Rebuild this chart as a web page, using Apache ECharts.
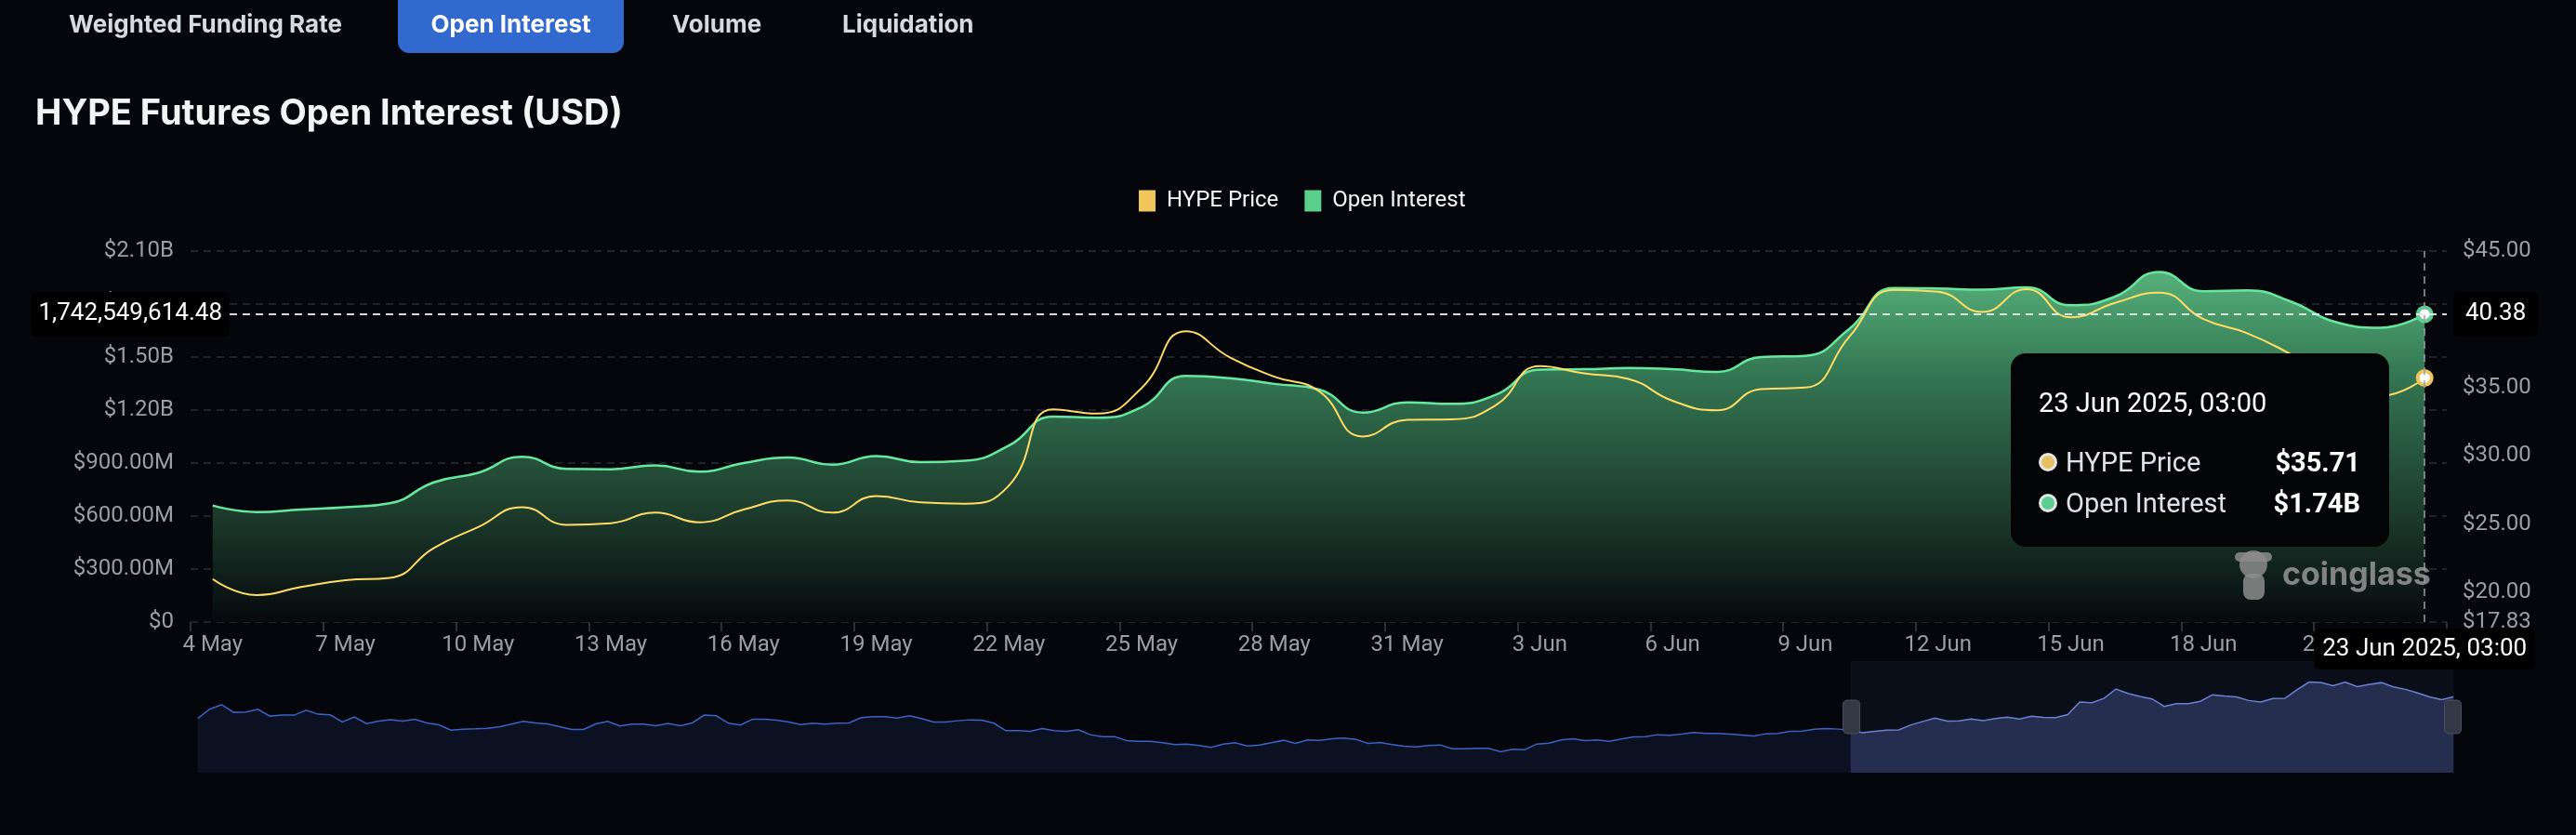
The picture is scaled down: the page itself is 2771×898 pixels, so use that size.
<!DOCTYPE html>
<html>
<head>
<meta charset="utf-8">
<script src="https://cdn.jsdelivr.net/npm/echarts@6/dist/echarts.min.js"></script>
<style>
html,body{margin:0;padding:0;background:#04060b;}
#c{width:2771px;height:898px;}
</style>
</head>
<body>
<div id="c"></div>
<script>
// ---------- DATA ----------
const MONTHS = ['Jan','Feb','Mar','Apr','May','Jun','Jul','Aug','Sep','Oct','Nov','Dec'];
// daily categories 18 Dec 2024 .. 23 Jun 2025 (03:00)
const dates = [];
for (let k = 0; k < 188; k++) {
  const d = new Date(Date.UTC(2024, 11, 18 + k));
  dates.push(d.getUTCDate() + ' ' + MONTHS[d.getUTCMonth()] + ' ' + d.getUTCFullYear() + ', 03:00');
}
// HYPE price before the visible window (read from the navigator)
const pricePre = [
  26.06,30.18,32.24,28.80,28.94,30.18,27.16,27.57,27.57,29.77,27.98,27.71,24.55,26.75,23.87,
  24.96,25.51,24.96,25.79,24.14,23.32,20.98,21.39,21.53,21.81,22.36,23.59,24.83,24.14,23.73,
  22.49,21.26,21.26,23.73,24.83,22.77,23.59,23.59,22.90,23.87,22.90,24.14,27.57,27.30,24.00,
  23.20,25.79,25.79,25.38,24.55,23.45,24.00,23.59,24.00,24.14,26.47,26.88,26.88,26.33,27.30,
  26.06,24.55,24.55,25.10,25.51,25.38,24.00,20.71,20.71,20.44,21.67,20.71,20.44,21.12,18.93,
  18.10,18.10,16.32,16.05,16.05,15.36,14.54,14.81,14.12,13.30,14.81,15.36,13.99,14.40,15.36,
  16.46,15.08,16.59,16.46,17.14,17.42,16.87,15.08,15.50,14.54,13.85,13.57,14.12,14.40,12.75,
  12.75,12.89,12.89,11.38,12.48,12.34,14.81,15.22,16.59,17.14,16.32,16.59,16.05,17.01,17.97,
  18.10,18.93,18.65,19.20,19.89,19.48,19.48,19.20,18.79,18.38,19.34,19.48,20.44,20.57,21.39,
  21.67,21.40
];
// HYPE price, 4 May .. 23 Jun
const priceWindow = [
  20.98,19.81,20.40,20.89,21.06,23.26,24.78,26.24,24.95,25.07,
  25.84,25.14,26.07,26.73,25.84,27.06,26.59,26.49,27.83,33.41,
  33.10,34.98,39.13,37.20,35.80,34.75,31.42,32.64,32.68,33.70,
  36.58,36.04,35.64,34.04,33.34,34.89,35.00,38.74,42.16,42.02,
  40.54,42.21,40.15,41.20,41.95,40.02,38.97,37.40,35.60,34.40,
  35.71
];
// Open interest (USD), 4 May .. 23 Jun
const oiWindow = [
  6.60e8,6.23e8,6.37e8,6.50e8,6.72e8,7.91e8,8.45e8,9.36e8,8.67e8,8.65e8,
  8.87e8,8.51e8,9.00e8,9.31e8,8.91e8,9.40e8,9.05e8,9.13e8,9.99e8,1.163e9,
  1.157e9,1.217e9,1.393e9,1.380e9,1.348e9,1.317e9,1.186e9,1.244e9,1.235e9,1.286e9,
  1.429e9,1.431e9,1.438e9,1.431e9,1.416e9,1.500e9,1.507e9,1.661e9,1.891e9,1.888e9,
  1.882e9,1.895e9,1.793e9,1.842e9,1.982e9,1.873e9,1.877e9,1.812e9,1.697e9,1.666e9,
  1742549614.48
];
const rightTicks = [17.83, 20, 25, 30, 35, 40, 45];
const tabs = ['Weighted Funding Rate', 'Open Interest', 'Volume', 'Liquidation'];

const priceData = pricePre.concat(priceWindow);
const oiData = new Array(pricePre.length).fill(null).concat(oiWindow);
const WIN_START = pricePre.length;
const LAST = priceData.length - 1;

// ---------- CHART ----------
const chart = echarts.init(document.getElementById('c'), null, {renderer: 'canvas'});
const AX = '#9a9ea7';
const FONT = 'Roboto, "Noto Sans", sans-serif';
const TFONT = 'Inter, Roboto, sans-serif';

function fmtLeft(v) {
  if (v === 0) return '$0';
  if (v >= 1e9) return '$' + (v / 1e9).toFixed(2) + 'B';
  return '$' + (v / 1e6).toFixed(2) + 'M';
}
function commas(v) {
  return Number(v).toLocaleString('en-US', {minimumFractionDigits: 2, maximumFractionDigits: 2});
}

const tabX = [74, 549.5, 723, 906];
const graphics = [
  {type: 'rect', shape: {x: 428, y: -16, width: 243, height: 73, r: 12}, style: {fill: '#3169cf'}, z: 10}
];
tabs.forEach((t, i) => {
  graphics.push({
    type: 'text', x: tabX[i], y: 27, z: 11,
    style: {text: t, fill: i === 1 ? '#ffffff' : '#d6dae1', font: 'bold 26px ' + TFONT,
            align: i === 1 ? 'center' : 'left', verticalAlign: 'middle'}
  });
});
// watermark
const WM = 'rgba(140,140,140,0.85)';
graphics.push({type: 'circle', z: 100, shape: {cx: 2424, cy: 607, r: 15}, style: {fill: WM}});
graphics.push({type: 'rect', z: 100, shape: {x: 2404, y: 594, width: 40, height: 10, r: 5}, style: {fill: WM}});
graphics.push({type: 'rect', z: 100, shape: {x: 2413, y: 617, width: 23, height: 28, r: 8}, style: {fill: WM}});
graphics.push({type: 'text', z: 100, x: 2455, y: 619,
  style: {text: 'coinglass', fill: 'rgba(150,150,150,0.85)', font: 'bold 34px ' + TFONT, align: 'left', verticalAlign: 'middle'}});

const option = {
  backgroundColor: '#04060b',
  animation: false,
  textStyle: {fontFamily: FONT},
  title: {
    text: 'HYPE Futures Open Interest (USD)', left: 38, top: 104, padding: 0,
    textStyle: {color: '#f3f4f6', fontSize: 38, fontWeight: 'bold', fontFamily: TFONT}
  },
  legend: {
    data: ['HYPE Price', 'Open Interest'], left: 1225, top: 204, padding: 0,
    icon: 'rect', itemWidth: 18, itemHeight: 23, itemGap: 28,
    textStyle: {color: '#f5f6f8', fontSize: 24, fontFamily: FONT, padding: [0, 0, 0, 7]}
  },
  graphic: graphics,
  grid: {left: 205, right: 139, top: 270, bottom: 229},
  tooltip: {
    trigger: 'axis',
    triggerOn: 'none',
    alwaysShowContent: true,
    transitionDuration: 0,
    position: [2163, 380],
    backgroundColor: '#030406',
    borderWidth: 0,
    padding: 0,
    extraCssText: 'border-radius:16px;box-shadow:none;',
    axisPointer: {
      type: 'cross',
      lineStyle: {color: '#9a9ea6', type: [8, 6], width: 1.5},
      crossStyle: {color: '#e6e8ec', type: [8, 6], width: 1.5},
      label: {backgroundColor: '#000000', color: '#ffffff', fontSize: 26, fontFamily: FONT,
              padding: [11, 8], borderRadius: 6}
    },
    formatter: function (params) {
      const p = params.find(x => x.seriesName === 'HYPE Price');
      const o = params.find(x => x.seriesName === 'Open Interest');
      const row = (color, name, val) =>
        '<div style="display:flex;justify-content:space-between;align-items:center;height:44px;font-size:29px;">' +
        '<span style="display:flex;align-items:center;color:#dfe2e8"><span style="display:inline-block;box-sizing:border-box;width:20px;height:20px;border-radius:50%;background:' + color + ';border:3px solid #e4e6ea;margin-right:9px"></span>' + name + '</span>' +
        '<span style="font-weight:bold;color:#ffffff">' + val + '</span></div>';
      return '<div style="width:346px;padding:28px 31px 25px 30px;font-family:Roboto,sans-serif;color:#fff;">' +
        '<div style="font-size:29px;line-height:50px;height:50px;margin-bottom:17px;">' + params[0].axisValue + '</div>' +
        row('#e6c062', 'HYPE Price', '$' + Number(p.value).toFixed(2)) +
        row('#5ccf8e', 'Open Interest', '$' + (Number(o.value) / 1e9).toFixed(2) + 'B') +
        '</div>';
    }
  },
  xAxis: {
    type: 'category',
    data: dates,
    boundaryGap: true,
    axisLine: {show: false},
    axisTick: {show: true, interval: (i) => i % 3 === 2, length: 10, lineStyle: {color: '#3c4049', width: 1.5}},
    axisLabel: {
      interval: (i) => i % 3 === 2,
      color: AX, fontSize: 24, margin: 13, fontFamily: FONT,
      formatter: (v) => v.split(' ').slice(0, 2).join(' ')
    },
    splitLine: {show: false},
    axisPointer: {label: {margin: 7, padding: [9, 9]}}
  },
  yAxis: [
    {
      type: 'value', position: 'left', min: 0, max: 2.1e9, interval: 3e8,
      axisLine: {show: false}, axisTick: {show: false},
      axisLabel: {color: AX, fontSize: 24, margin: 18, fontFamily: FONT, formatter: fmtLeft},
      splitLine: {show: true, lineStyle: {color: '#2a2d35', type: [8, 6], width: 1.5}},
      axisPointer: {label: {margin: -42, formatter: (p) => commas(p.value)}}
    },
    {
      type: 'value', position: 'right', min: 17.83, max: 45, minInterval: 5, maxInterval: 5,
      axisLine: {show: false}, axisTick: {show: false, customValues: rightTicks},
      axisLabel: {color: AX, fontSize: 24, margin: 17, fontFamily: FONT, customValues: rightTicks,
                  formatter: (v) => '$' + Number(v).toFixed(2)},
      splitLine: {show: false},
      axisPointer: {label: {margin: 7, padding: [11, 13], formatter: (p) => Number(p.value).toFixed(2)}}
    }
  ],
  dataZoom: [{
    type: 'slider', xAxisIndex: 0, startValue: WIN_START, endValue: LAST,
    left: 210, right: 134, top: 711, height: 120,
    backgroundColor: 'rgba(0,0,0,0)', borderColor: 'rgba(0,0,0,0)',
    fillerColor: 'rgba(70,90,160,0.10)',
    dataBackground: {lineStyle: {color: '#3b62c4', width: 1.5, opacity: 1}, areaStyle: {color: '#0c1122', opacity: 1}},
    selectedDataBackground: {lineStyle: {color: '#6f87d6', width: 1.5, opacity: 1}, areaStyle: {color: '#232a47', opacity: 1}},
    handleIcon: 'path://M5,0 h10 a5,5 0 0 1 5,5 v30 a5,5 0 0 1 -5,5 h-10 a5,5 0 0 1 -5,-5 v-30 a5,5 0 0 1 5,-5 z',
    handleSize: 36,
    handleStyle: {color: '#333845', borderColor: '#4a4f5d', borderWidth: 1},
    moveHandleSize: 0,
    moveHandleStyle: {opacity: 0},
    showDetail: false,
    brushSelect: false
  }],
  series: [
    {
      name: 'HYPE Price', type: 'line', yAxisIndex: 1, data: priceData, z: 4,
      smooth: true, showSymbol: false, symbol: 'circle', symbolSize: 15,
      color: '#efc65a',
      lineStyle: {color: '#f1c85c', width: 2},
      itemStyle: {color: '#efc65a'},
      emphasis: {scale: false, lineStyle: {width: 2}, itemStyle: {color: '#ffffff', borderColor: '#efc65a', borderWidth: 4}}
    },
    {
      name: 'Open Interest', type: 'line', yAxisIndex: 0, data: oiData, z: 3,
      smooth: true, showSymbol: false, symbol: 'circle', symbolSize: 15,
      color: '#5ccf8e',
      lineStyle: {color: '#5ed392', width: 2.5},
      itemStyle: {color: '#5ccf8e'},
      areaStyle: {
        opacity: 1,
        color: new echarts.graphic.LinearGradient(0, 0, 0, 1, [
          {offset: 0, color: '#4fa06f'},
          {offset: 0.3, color: '#2f6b4b'},
          {offset: 0.67, color: '#1c392a'},
          {offset: 1, color: '#06090c'}
        ])
      },
      emphasis: {scale: false, lineStyle: {width: 2.5}, itemStyle: {color: '#ffffff', borderColor: '#5ccf8e', borderWidth: 4}}
    }
  ]
};
chart.setOption(option);

function showTip() {
  const pt = chart.convertToPixel({gridIndex: 0}, [LAST, oiWindow[oiWindow.length - 1]]);
  chart.dispatchAction({type: 'showTip', x: pt[0], y: pt[1]});
}
showTip();
setTimeout(showTip, 50);
</script>
</body>
</html>
